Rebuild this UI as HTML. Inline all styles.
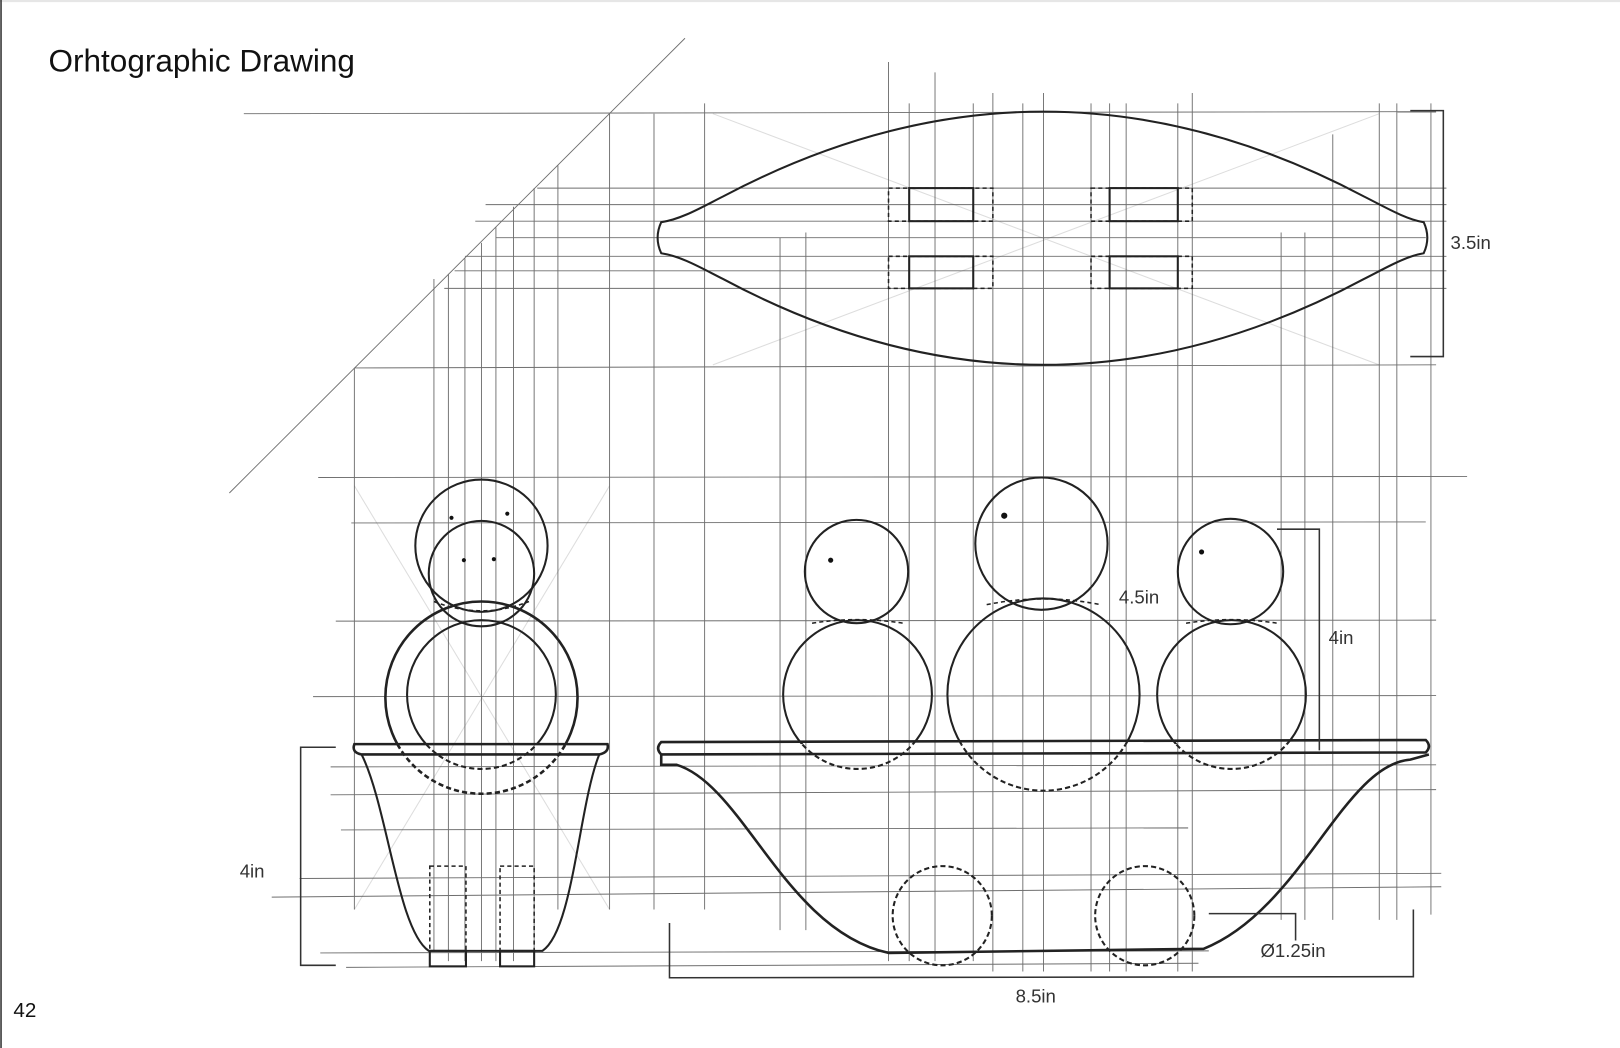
<!DOCTYPE html>
<html><head><meta charset="utf-8"><style>html,body{margin:0;padding:0;background:#fff}svg{display:block}</style></head>
<body>
<svg width="1620" height="1048" viewBox="0 0 1568 1014" preserveAspectRatio="none" xmlns="http://www.w3.org/2000/svg" font-family="Liberation Sans, sans-serif">
<defs>
<clipPath id="up"><rect x="0" y="0" width="1568" height="720"/></clipPath>
<clipPath id="dn"><rect x="0" y="720" width="1568" height="300"/></clipPath>
</defs>
<rect x="0" y="0" width="1568" height="1014" fill="#fff"/>
<line x1="0" y1="1" x2="1568" y2="1" stroke="#e6e6e6" stroke-width="2"/>
<line x1="1" y1="0" x2="1" y2="1014" stroke="#333" stroke-width="1.5"/>
<text x="47" y="69" font-size="30.5" fill="#111">Orhtographic Drawing</text>
<text x="13" y="984" font-size="20" fill="#111">42</text>
<g stroke="#ddd" stroke-width="1">
<line x1="690" y1="110" x2="1335" y2="353"/><line x1="690" y1="353" x2="1335" y2="110"/>
<line x1="343" y1="470" x2="590" y2="880"/><line x1="590" y1="470" x2="343" y2="880"/>
</g>
<g stroke="#555" stroke-width="0.9" opacity="0.85">
<line x1="222" y1="477" x2="663" y2="37"/>
<line x1="236" y1="110" x2="1390" y2="108"/>
<line x1="520" y1="182" x2="1400" y2="182"/>
<line x1="470" y1="198" x2="1400" y2="198"/>
<line x1="460" y1="214" x2="1400" y2="214"/>
<line x1="480" y1="230" x2="1380" y2="230"/>
<line x1="450" y1="248" x2="1400" y2="248"/>
<line x1="440" y1="262" x2="1400" y2="262"/>
<line x1="430" y1="279" x2="1400" y2="279"/>
<line x1="343" y1="356" x2="1390" y2="353"/>
<line x1="308" y1="462" x2="1420" y2="461"/>
<line x1="340" y1="506" x2="1380" y2="505"/>
<line x1="325" y1="601" x2="1390" y2="600"/>
<line x1="303" y1="674" x2="1390" y2="673"/>
<line x1="320" y1="742" x2="1390" y2="740"/>
<line x1="320" y1="769" x2="1390" y2="764"/>
<line x1="330" y1="803" x2="1150" y2="801"/>
<line x1="290" y1="850" x2="1395" y2="845"/>
<line x1="263" y1="868" x2="1395" y2="858"/>
<line x1="310" y1="922" x2="1170" y2="920"/>
<line x1="335" y1="936" x2="1160" y2="932"/>
<line x1="343" y1="356" x2="343" y2="880"/>
<line x1="420" y1="270" x2="420" y2="920"/>
<line x1="434" y1="265" x2="434" y2="930"/>
<line x1="450" y1="250" x2="450" y2="930"/>
<line x1="466" y1="235" x2="466" y2="930"/>
<line x1="480" y1="220" x2="480" y2="930"/>
<line x1="497" y1="200" x2="497" y2="930"/>
<line x1="517" y1="182" x2="517" y2="930"/>
<line x1="540" y1="160" x2="540" y2="880"/>
<line x1="590" y1="110" x2="590" y2="880"/>
<line x1="633" y1="110" x2="633" y2="880"/>
<line x1="682" y1="100" x2="682" y2="880"/>
<line x1="755" y1="230" x2="755" y2="900"/>
<line x1="780" y1="225" x2="780" y2="900"/>
<line x1="860" y1="60" x2="860" y2="930"/>
<line x1="880" y1="100" x2="880" y2="930"/>
<line x1="905" y1="70" x2="905" y2="930"/>
<line x1="942" y1="100" x2="942" y2="930"/>
<line x1="961" y1="90" x2="961" y2="940"/>
<line x1="990" y1="100" x2="990" y2="940"/>
<line x1="1010" y1="90" x2="1010" y2="940"/>
<line x1="1056" y1="100" x2="1056" y2="940"/>
<line x1="1074" y1="100" x2="1074" y2="940"/>
<line x1="1090" y1="100" x2="1090" y2="940"/>
<line x1="1140" y1="100" x2="1140" y2="940"/>
<line x1="1154" y1="90" x2="1154" y2="940"/>
<line x1="1240" y1="225" x2="1240" y2="890"/>
<line x1="1263" y1="225" x2="1263" y2="890"/>
<line x1="1290" y1="130" x2="1290" y2="890"/>
<line x1="1335" y1="100" x2="1335" y2="890"/>
<line x1="1352" y1="100" x2="1352" y2="890"/>
<line x1="1385" y1="100" x2="1385" y2="885"/>
</g>
<g fill="none" stroke="#222" stroke-width="2">
<path d="M640,215 C660,212 680,200 700,190 Q1010,26 1320,190 C1340,200 1360,212 1378,215 Q1385,230 1378,245 C1360,248 1340,260 1320,270 Q1010,436 700,270 C680,260 660,248 640,245 Q633,230 640,215 Z"/>
<rect x="880" y="182" width="62" height="32"/><rect x="1074" y="182" width="66" height="32"/>
<rect x="880" y="248" width="62" height="31"/><rect x="1074" y="248" width="66" height="31"/>
<g stroke-dasharray="4,3" stroke-width="1.5">
<rect x="860" y="182" width="101" height="32"/><rect x="1056" y="182" width="98" height="32"/>
<rect x="860" y="248" width="101" height="31"/><rect x="1056" y="248" width="98" height="31"/>
</g>
<circle cx="829" cy="553" r="50"/><circle cx="1008" cy="526" r="64"/><circle cx="1191" cy="553" r="51"/>
<g clip-path="url(#up)"><circle cx="830" cy="672" r="72"/><circle cx="1010" cy="672" r="93"/><circle cx="1192" cy="672" r="72"/></g>
<g clip-path="url(#dn)" stroke-dasharray="5,3"><circle cx="830" cy="672" r="72"/><circle cx="1010" cy="672" r="93"/><circle cx="1192" cy="672" r="72"/></g>
<path d="M640,718 L1380,716 Q1386,722 1380,728 L640,730 Q634,724 640,718 Z" stroke-width="2.5"/>
<path d="M640,730 L640,740 L655,740 C720,760 760,900 860,922 L1165,918 C1260,880 1300,740 1365,735 L1383,730" stroke-width="2.5"/>
<g stroke-dasharray="5,3"><circle cx="912" cy="886" r="48"/><circle cx="1108" cy="886" r="48"/></g>
<circle cx="466" cy="528" r="64"/><circle cx="466" cy="555" r="51"/>
<g clip-path="url(#up)"><circle cx="466" cy="675" r="93" stroke-width="2.5"/><circle cx="466" cy="672" r="72"/></g>
<g clip-path="url(#dn)" stroke-dasharray="5,3"><circle cx="466" cy="675" r="93" stroke-width="2.5"/><circle cx="466" cy="672" r="72"/></g>
<path d="M343,720 L588,720 Q590,728 580,730 L350,730 Q340,728 343,720 Z" stroke-width="2.5"/>
<path d="M350,730 C375,780 385,900 415,920 L525,920 C555,900 560,780 580,730" stroke-width="2"/>
<rect x="416" y="920" width="35" height="15"/><rect x="484" y="920" width="33" height="15"/>
<g stroke-dasharray="4,3" stroke-width="1.5"><rect x="416" y="838" width="35" height="82"/><rect x="484" y="838" width="33" height="82"/>
<path d="M420,582 Q466,600 512,582"/><path d="M786,603 Q830,596 874,603"/><path d="M955,585 Q1010,574 1065,585"/><path d="M1148,603 Q1192,596 1236,603"/></g>
</g>
<g fill="#111">
<circle cx="804" cy="542" r="2.5"/><circle cx="972" cy="499" r="3"/><circle cx="1163" cy="534" r="2.5"/>
<circle cx="437" cy="501" r="2"/><circle cx="491" cy="497" r="2"/><circle cx="449" cy="542" r="2"/><circle cx="478" cy="541" r="2"/>
</g>
<g fill="none" stroke="#333" stroke-width="1.5">
<path d="M1365,107 L1397,107 L1397,345 L1365,345"/>
<path d="M1236,512 L1277,512 L1277,726"/>
<path d="M325,723 L291,723 L291,934 L325,934"/>
<path d="M648,893 L648,946 L1368,945 L1368,880"/>
<path d="M1170,884 L1254,884 L1254,910"/>
</g>
<g font-size="18" fill="#333">
<text x="1404" y="241">3.5in</text>
<text x="1083" y="584">4.5in</text>
<text x="1286" y="623">4in</text>
<text x="232" y="849">4in</text>
<text x="1220" y="926">Ø1.25in</text>
<text x="983" y="970">8.5in</text>
</g>
</svg>
</body></html>
